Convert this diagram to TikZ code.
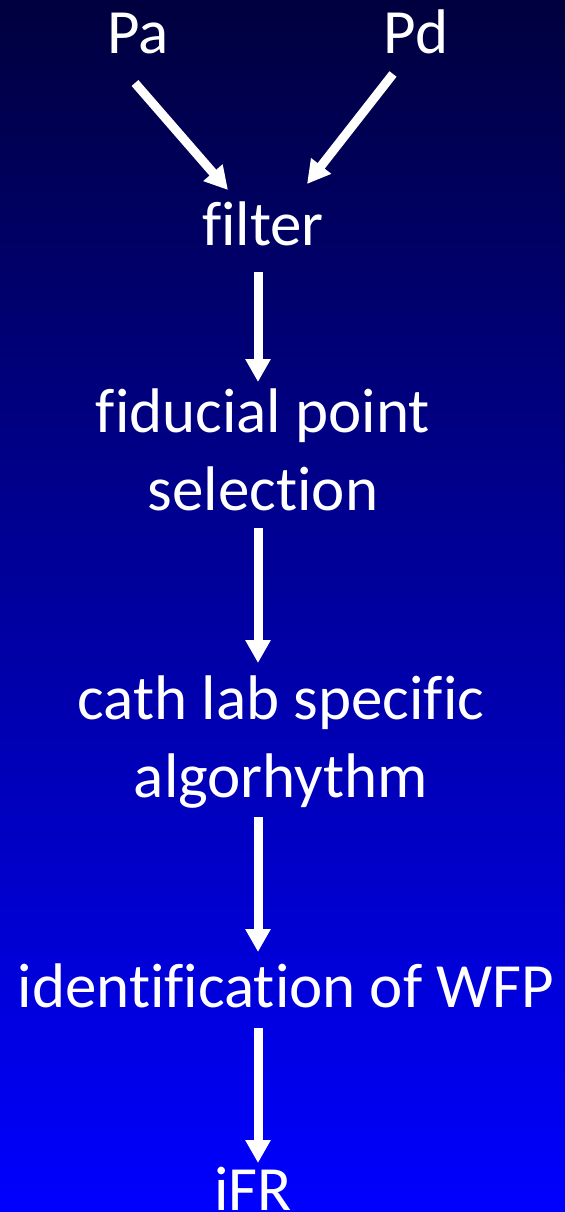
\documentclass[tikz,border=0pt]{standalone}
\usepackage{fontspec}
\setmainfont{Carlito}[Ligatures=NoCommon]
\usetikzlibrary{arrows.meta,calc}
\definecolor{navytop}{RGB}{0,0,62}
\definecolor{bluemid}{RGB}{0,0,190}
\definecolor{bluebot}{RGB}{0,0,255}
\begin{document}
\begin{tikzpicture}[x=0.5pt,y=-0.5pt,
  lbl/.style={text=white,inner sep=0pt,anchor=base,align=center,
    font=\fontsize{31.5pt}{39pt}\selectfont},
  flow/.style={draw=white,line width=4.5pt,
    -{Triangle[length=11.5pt,width=12pt]}}]
  % background
  \shade[top color=navytop,middle color=bluemid,bottom color=bluebot]
    (0,0) rectangle (565,1212);
  \useasboundingbox (0,0) rectangle (565,1212);
  \coordinate (spine) at (258,0);
  % labels (two-line labels are placed by their last baseline)
  \node[lbl] (pa) at (138,53) {Pa};
  \node[lbl] (pd) at (416,53) {Pd};
  \node[lbl] (filter) at (263,245) {filter};
  \node[lbl] (fid) at (263,510) {fiducial point\\selection};
  \node[lbl] (cath) at (281,797) {cath lab specific\\algorhythm};
  \node[lbl] (wfp) at (286,1007) {identification of WFP};
  \node[lbl] (ifr) at (253,1210) {iFR};
  % connectors
  \draw[flow] ($(pa.base)+(-3,30)$) -- ($(filter.base)+(-35,-55)$);
  \draw[flow] ($(pd.base)+(-23,21)$) -- ($(filter.base)+(44,-61)$);
  \draw[flow] ($(filter.base -| spine)+(0,27)$) -- ($(fid.base -| spine)+(0,-128)$);
  \draw[flow] ($(fid.base -| spine)+(0,18)$) -- ($(cath.base -| spine)+(0,-134)$);
  \draw[flow] ($(cath.base -| spine)+(0,20)$) -- ($(wfp.base -| spine)+(0,-55)$);
  \draw[flow] ($(wfp.base -| spine)+(0,21)$) -- ($(ifr.base -| spine)+(0,-47)$);
\end{tikzpicture}
\end{document}
